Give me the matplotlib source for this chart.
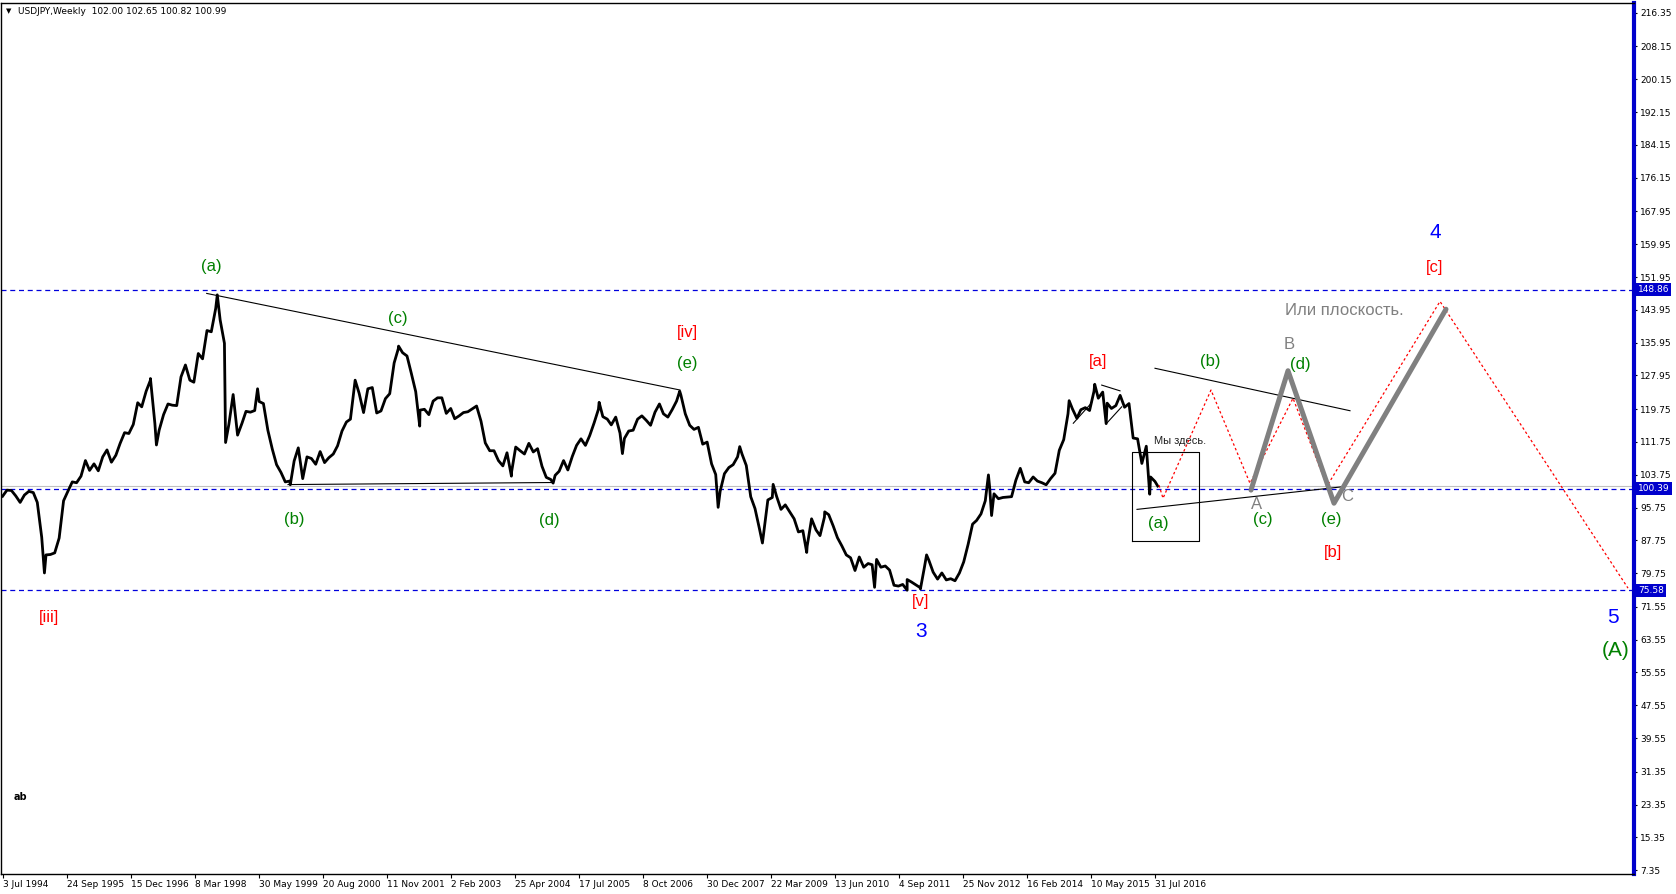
import numpy as np
import pandas as pd
import matplotlib
matplotlib.use('Agg')
import matplotlib.pyplot as plt
from matplotlib.transforms import blended_transform_factory

# --- VERİ ---
START = pd.Timestamp('1994-07-03')

# aylık kapanışlar, 1994-06 .. 2016-07
month_close = [
    98.5, 100.0, 99.9, 98.6, 97.0, 98.8, 99.7,  # 1994
    99.4, 97.0, 88.5, 84.2, 84.3, 84.7, 88.3, 97.4, 99.7, 102.0, 101.8, 103.4,  # 1995
    107.2, 104.8, 106.4, 104.7, 108.1, 109.8, 106.8, 108.5, 111.4, 114.0, 113.8, 116.0,  # 1996
    121.3, 120.3, 124.1, 126.8, 116.3, 114.6, 118.4, 121.0, 120.7, 120.6, 127.6, 130.5,  # 1997
    126.8, 126.3, 133.3, 132.0, 138.9, 138.6, 144.3, 141.5, 135.8, 116.0, 123.3, 113.4,  # 1998
    116.3, 119.2, 119.0, 119.4, 121.6, 121.1, 114.6, 110.0, 106.2, 104.3, 102.0, 102.2,  # 1999
    107.1, 110.3, 102.8, 108.1, 107.7, 106.3, 109.4, 106.7, 107.9, 108.8, 110.8, 114.4,  # 2000
    116.6, 117.3, 126.1, 123.6, 118.9, 124.7, 125.0, 118.8, 119.3, 122.3, 123.5, 131.0,  # 2001
    134.7, 133.5, 132.7, 128.5, 124.0, 119.5, 119.7, 118.4, 121.7, 122.5, 122.5, 118.7,  # 2002
    119.9, 117.4, 118.1, 118.9, 119.1, 119.8, 120.5, 116.8, 111.5, 109.6, 109.6, 107.2,  # 2003
    105.9, 109.1, 104.2, 110.5, 109.6, 108.8, 111.4, 109.3, 110.1, 105.8, 103.1, 102.6,  # 2004
    103.6, 104.6, 107.2, 104.9, 108.2, 110.9, 112.5, 110.9, 113.3, 116.4, 119.7, 117.9,  # 2005
    117.3, 115.9, 117.8, 113.9, 112.6, 114.4, 114.6, 117.3, 118.1, 117.0, 115.8, 119.0,  # 2006
    121.0, 118.6, 117.8, 119.6, 121.7, 123.2, 118.6, 115.8, 114.8, 115.3, 111.2, 111.7,  # 2007
    106.4, 103.8, 99.7, 104.0, 105.5, 106.2, 108.1, 108.8, 106.0, 98.4, 95.5, 90.6,  # 2008
    89.9, 97.6, 98.2, 98.5, 95.3, 96.4, 94.7, 93.0, 89.8, 90.1, 86.3, 93.0,  # 2009
    90.3, 88.9, 93.4, 94.0, 91.3, 88.4, 86.4, 84.2, 83.5, 80.4, 83.7, 81.2,  # 2010
    82.1, 81.8, 83.1, 81.2, 81.5, 80.5, 76.8, 76.6, 77.0, 78.2, 77.6, 76.9,  # 2011
    76.2, 81.2, 82.9, 80.0, 78.3, 79.8, 78.1, 78.4, 77.9, 79.8, 82.5, 86.8,  # 2012
    91.7, 92.6, 94.2, 97.4, 100.5, 99.1, 97.9, 98.2, 98.3, 98.4, 102.4, 105.3,  # 2013
    102.0, 101.8, 103.2, 102.2, 101.8, 101.3, 102.8, 104.1, 109.7, 112.3, 118.6, 119.8,  # 2014
    117.5, 119.6, 120.1, 119.4, 124.1, 122.4, 123.9, 121.2, 119.9, 120.6, 123.1, 120.2,  # 2015
    121.1, 112.7, 112.5, 106.5, 110.7, 103.2, 102.1,  # 2016
]

# ay içi dönüm noktaları (tepe / dip)
pivot_dates = ['1995-04-19', '1997-04-30', '1997-06-11', '1998-08-11', '1998-10-08',
               '1999-05-20', '2000-01-04', '2001-04-02', '2002-01-31', '2002-06-28',
               '2004-03-31', '2005-01-17', '2005-12-05', '2006-05-17', '2007-06-22',
               '2008-03-17', '2008-08-15', '2009-01-21', '2009-04-06', '2009-11-27',
               '2010-04-02', '2011-03-17', '2011-10-31', '2012-02-01', '2012-03-15',
               '2013-05-22', '2013-06-13', '2014-12-08', '2015-06-05', '2015-08-24',
               '2016-06-24', '2016-08-19']
pivot_prices = [79.8, 127.2, 111.0, 147.6, 111.6,
                124.7, 101.3, 126.8, 135.1, 115.6,
                103.4, 101.7, 121.4, 108.9, 124.1,
                95.8, 110.6, 87.1, 101.4, 84.8,
                94.7, 76.3, 75.6, 75.9, 84.2,
                103.7, 93.8, 121.8, 125.8, 116.2,
                99.0, 100.99]

x_tick_dates = ['1994-07-03', '1995-09-24', '1996-12-15', '1998-03-08', '1999-05-30',
                '2000-08-20', '2001-11-11', '2003-02-02', '2004-04-25', '2005-07-17',
                '2006-10-08', '2007-12-30', '2009-03-22', '2010-06-13', '2011-09-04',
                '2012-11-25', '2014-02-16', '2015-05-10', '2016-07-31']
x_tick_labels = ['3 Jul 1994', '24 Sep 1995', '15 Dec 1996', '8 Mar 1998', '30 May 1999',
                 '20 Aug 2000', '11 Nov 2001', '2 Feb 2003', '25 Apr 2004', '17 Jul 2005',
                 '8 Oct 2006', '30 Dec 2007', '22 Mar 2009', '13 Jun 2010', '4 Sep 2011',
                 '25 Nov 2012', '16 Feb 2014', '10 May 2015', '31 Jul 2016']
y_ticks = [216.35, 208.15, 200.15, 192.15, 184.15, 176.15, 167.95, 159.95, 151.95,
           143.95, 135.95, 127.95, 119.75, 111.75, 103.75, 95.75, 87.75, 79.75, 71.55,
           63.55, 55.55, 47.55, 39.55, 31.35, 23.35, 15.35, 7.35]

levels = [148.86, 100.39, 75.58]
bid = 100.99

# projeksiyon (hafta indeksi, fiyat)
red_weeks = [1156, 1160, 1208, 1247, 1290, 1324, 1437, 1625]
red_prices = [101.2, 98.0, 124.4, 101.65, 122.4, 101.0, 146.0, 76.1]
gray_weeks = [1248, 1285, 1331, 1443]
gray_prices = [100.0, 129.1, 96.8, 144.1]

# trend çizgileri: (w1, p1, w2, p2)
trend_lines = [
    (203.7, 147.95, 677, 124.4),
    (285, 101.35, 550, 101.85),
    (1152, 129.7, 1347, 119.35),
    (1134, 95.3, 1339, 100.8),
    (1070.3, 116.3, 1088.7, 121.3),
    (1098.7, 125.6, 1117, 124.2),
    (1103.7, 116.3, 1118.7, 120.3),
]
box = (1128.7, 87.6, 1196.3, 109.2)

GREEN, RED, BLUE, GRAY = '#008000', '#ff0000', '#0000ff', '#808080'
labels = [
    ('(a)', 208.7, 154.4, GREEN, 12), ('(b)', 291, 92.8, GREEN, 12),
    ('(c)', 395.3, 141.9, GREEN, 12), ('(d)', 546.5, 92.6, GREEN, 12),
    ('(e)', 684.4, 130.85, GREEN, 12), ('[iv]', 684.4, 138.4, RED, 12),
    ('[iii]', 46.2, 68.85, RED, 12), ('[v]', 917.4, 72.8, RED, 12),
    ('3', 918.5, 65.45, BLUE, 15), ('[a]', 1094.9, 131.4, RED, 12),
    ('(a)', 1155.3, 91.9, GREEN, 12), ('(b)', 1207, 131.3, GREEN, 12),
    ('A', 1253.7, 96.6, GRAY, 12), ('(c)', 1259.7, 92.95, GREEN, 12),
    ('B', 1286.3, 135.4, GRAY, 12), ('(d)', 1297, 130.5, GREEN, 12),
    ('(e)', 1328, 92.95, GREEN, 12), ('C', 1344.3, 98.4, GRAY, 12),
    ('[b]', 1330.3, 84.7, RED, 12), ('4', 1432.7, 162.85, BLUE, 15),
    ('[c]', 1432, 154.2, RED, 12), ('5', 1610, 68.85, BLUE, 15),
    ('(A)', 1612.3, 60.8, GREEN, 15),
]


def week_of(d):
    return (pd.Timestamp(d) - START).days / 7.0


# --- ÇİZİM ---
m_dates = pd.date_range('1994-06-30', periods=len(month_close), freq='ME')
pts = [(week_of(d), v) for d, v in zip(m_dates, month_close)]
pts += [(week_of(d), v) for d, v in zip(pivot_dates, pivot_prices)]
pts.sort()
px = np.array([p[0] for p in pts])
py = np.array([p[1] for p in pts])

fig = plt.figure(figsize=(16.76, 8.94), dpi=100)
ax = fig.add_axes([1 / 1676, 20 / 894, 1633 / 1676, 871 / 894])
ax.set_xlim(-2, 1631)
ax.set_ylim(6.41, 218.75)

for lv in levels:
    ax.axhline(lv, color='#0000dd', lw=0.9, ls=(0, (4, 3)), zorder=1)
ax.axhline(bid, color='#c0c0c0', lw=0.8, zorder=1)

ax.plot(px, py, color='black', lw=2.0, zorder=3)

for w1, p1, w2, p2 in trend_lines:
    ax.plot([w1, w2], [p1, p2], color='black', lw=0.8, zorder=2)
bx0, by0, bx1, by1 = box
ax.plot([bx0, bx1, bx1, bx0, bx0], [by0, by0, by1, by1, by0], color='black', lw=0.8)

ax.plot(red_weeks, red_prices, color=RED, lw=0.9, ls=(0, (2, 2)), zorder=4)
ax.plot(gray_weeks, gray_prices, color=GRAY, lw=3.6, zorder=5, solid_capstyle='round')

for t, w, p, c, s in labels:
    ax.text(w, p, t, color=c, fontsize=s, family='Liberation Sans', ha='center', va='center')
ax.text(1177, 111.95, 'Мы здесь.', color='#202020', fontsize=8, family='Liberation Sans',
        ha='center', va='center')
ax.text(1282, 143.7, 'Или плоскость.', color=GRAY, fontsize=12, family='Liberation Sans',
        ha='left', va='center')
ax.text(17.3, 25.3, 'ab', color='black', fontsize=7, fontweight='bold', ha='center', va='center')

# eksenler
for side in ['left', 'top', 'bottom']:
    ax.spines[side].set_color('black')
    ax.spines[side].set_linewidth(1.0)
ax.spines['right'].set_color('#0000cc')
ax.spines['right'].set_linewidth(3)

ax.yaxis.tick_right()
ax.set_yticks(y_ticks)
ax.set_yticklabels([f'{v:.2f}' for v in y_ticks])
ax.tick_params(axis='y', direction='out', length=2.5, width=0.8, pad=2, labelsize=6.5)
ax.set_xticks([week_of(d) for d in x_tick_dates])
ax.set_xticklabels(x_tick_labels)
ax.tick_params(axis='x', direction='out', length=3, width=0.8, pad=1, labelsize=6.5)
for lbl in ax.get_xticklabels():
    lbl.set_ha('left')

tr = blended_transform_factory(ax.transAxes, ax.transData)
for lv in levels:
    ax.text(1.0025, lv, f'{lv:.2f}', transform=tr, color='white', fontsize=6.5,
            ha='left', va='center',
            bbox=dict(boxstyle='square,pad=0.2', facecolor='#0000cc', edgecolor='none'))

fig.text(6 / 1676, 1 - 11 / 894, '▼', fontsize=5, va='center', ha='left')
fig.text(18 / 1676, 1 - 11 / 894, 'USDJPY,Weekly  102.00 102.65 100.82 100.99',
         fontsize=6.5, va='center', ha='left')

fig.savefig('out.png', dpi=100)
